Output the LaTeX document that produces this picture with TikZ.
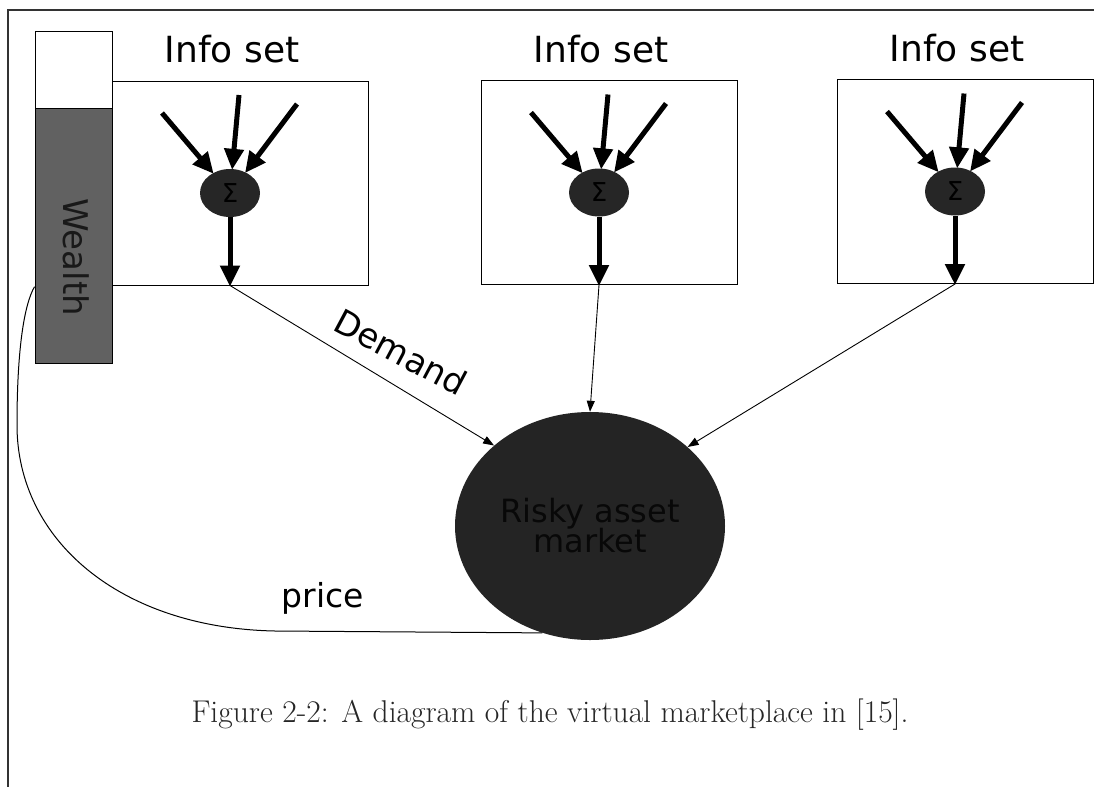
\documentclass[tikz,border=0pt]{standalone}
\usepackage{fontspec}
\setsansfont{DejaVu Sans}
\usetikzlibrary{arrows.meta,calc,shapes.geometric}

\tikzset{
  label font/.style={font=\sffamily\fontsize{#1}{#1}\selectfont},
  infobox/.style={draw, line width=1pt, minimum width=256pt, minimum height=204pt, inner sep=0pt},
  title/.style={label font=36, inner sep=0pt},
  sigma/.style={ellipse, fill=black!85, minimum width=60pt, minimum height=48pt, inner sep=0pt,
                text=black, label font=26},
  heavy/.style={line width=5pt, -{Triangle[length=21pt,width=19pt]}, shorten >=-1pt},
  thin/.style={line width=0.9pt, -{Triangle[length=11pt,width=8pt]}},
}

\begin{document}
\begin{tikzpicture}[x=1pt, y=-1pt]
\useasboundingbox (0,0) rectangle (1094,787);

% page frame fragment
\draw[line width=1.2pt, black!80] (1094,10) -- (8,10) -- (8,787);

% wealth bar
\node[draw, line width=1pt, fill=white, minimum width=77pt, minimum height=77pt, inner sep=0pt]
  (wtop) at (73.5,69.5) {};
\node[draw, line width=1pt, fill=black!62, minimum width=77pt, minimum height=255pt, inner sep=0pt]
  (wealth) at (73.5,235.5) {};
\node[label font=34, rotate=-90, text=black!90] (wtext) at (76,257) {Wealth};

% information sets
\foreach \i/\cx/\cy in {1/240/183, 2/609/182.5, 3/965/181.5}{
  \node[infobox] (box\i) at (\cx,\cy) {};
  \node[title] (title\i) at ($(box\i.north)+(-8,-31)$) {Info set};
  \node[sigma] (s\i) at ($(box\i.center)+(-10,10)$) {Σ};
  \coordinate (inL\i) at ($(s\i)+(-68,-80)$);
  \coordinate (inM\i) at ($(s\i)+(9,-98)$);
  \coordinate (inR\i) at ($(s\i)+(67,-89)$);
  \coordinate (out\i) at (s\i |- box\i.south);
  \draw[heavy] (inL\i) -- (s\i);
  \draw[heavy] (inM\i) -- (s\i);
  \draw[heavy] (inR\i) -- (s\i);
  \draw[heavy] (s\i) -- (out\i);
}

% market
\node[ellipse, fill=black!86, minimum width=270pt, minimum height=228pt, inner sep=0pt,
      align=center, label font=32, text=black!97] (market) at (590,526)
  {Risky asset\\[-2pt]market};

% demand connectors
\draw[thin] (out1) -- (market.140);
\draw[thin] (out2) -- (market.90);
\draw[thin] (out3) -- (market.39);
\node[label font=34, rotate=-28] (demand) at (401,352) {Demand};

% price feedback to wealth
\coordinate (wtap) at ($(wealth.north west)!0.70!(wealth.south west)$);
\draw[line width=1pt] (market.246) -- (275,631)
  .. controls (120,628) and (17,540) .. (17,425)
  .. controls (17,350) and (24,305) .. (wtap);
\node[label font=33] (price) at (323,598) {price};

% caption
\node[font=\rmfamily\fontsize{31.5}{33}\selectfont, text=black!85] (caption) at (550,715)
  {Figure 2-2: A diagram of the virtual marketplace in [15].};
\end{tikzpicture}
\end{document}
